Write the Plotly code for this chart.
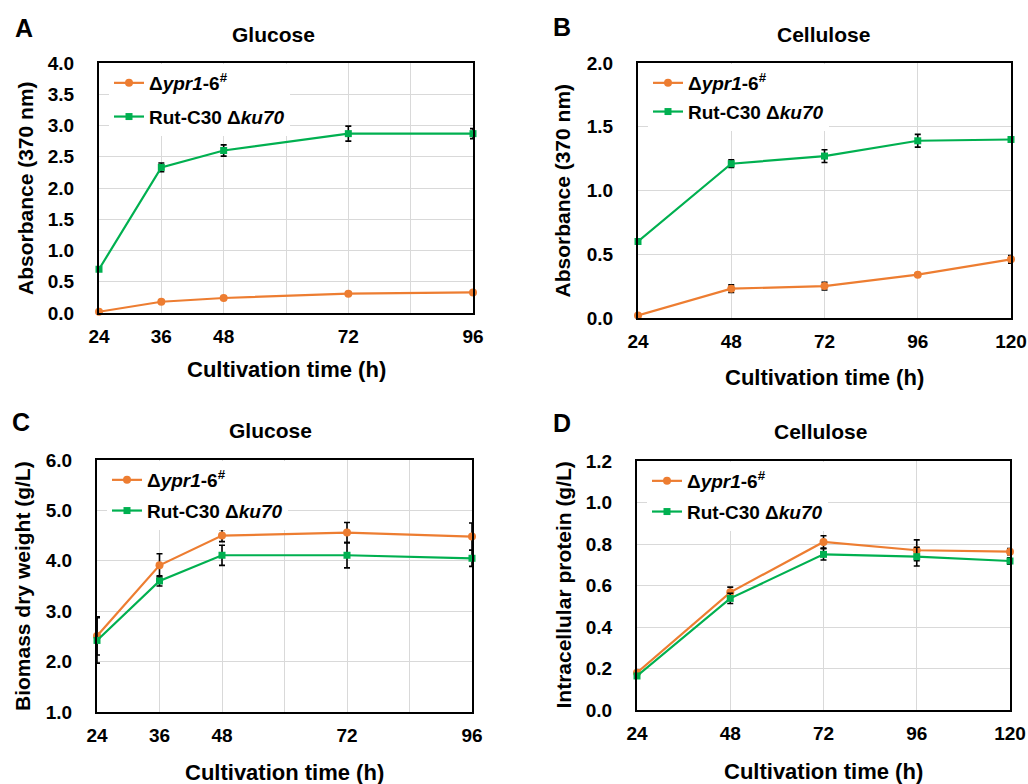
import plotly.graph_objects as go

ORANGE = "#ED7D31"
GREEN = "#00B050"
FONT = "Arial, Liberation Sans, sans-serif"

name_ypr = "Δ<i>ypr1</i>-6<sup>#</sup>"
name_ku = "Rut-C30 Δ<i>ku70</i>"

# Panel A: Glucose, absorbance
a_time = [24, 36, 48, 72, 96]
a_ypr = [0.02, 0.18, 0.24, 0.31, 0.33]
a_ypr_err = [0.01, 0.02, 0.02, 0.02, 0.02]
a_ku = [0.70, 2.33, 2.60, 2.87, 2.87]
a_ku_err = [0.03, 0.07, 0.09, 0.12, 0.08]

# Panel B: Cellulose, absorbance
b_time = [24, 48, 72, 96, 120]
b_ypr = [0.02, 0.23, 0.25, 0.34, 0.46]
b_ypr_err = [0.01, 0.03, 0.03, 0.01, 0.03]
b_ku = [0.60, 1.21, 1.27, 1.39, 1.40]
b_ku_err = [0.01, 0.03, 0.05, 0.05, 0.02]

# Panel C: Glucose, biomass
c_time = [24, 36, 48, 72, 96]
c_ypr = [2.51, 3.91, 4.50, 4.56, 4.48]
c_ypr_err = [0.38, 0.23, 0.12, 0.20, 0.27]
c_ku = [2.42, 3.60, 4.11, 4.11, 4.05]
c_ku_err = [0.45, 0.10, 0.20, 0.25, 0.16]

# Panel D: Cellulose, intracellular protein
d_time = [24, 48, 72, 96, 120]
d_ypr = [0.18, 0.567, 0.81, 0.77, 0.763]
d_ypr_err = [0.01, 0.025, 0.03, 0.05, 0.015]
d_ku = [0.164, 0.538, 0.75, 0.739, 0.718]
d_ku_err = [0.01, 0.025, 0.027, 0.045, 0.015]

glc_tickvals = [24, 36, 48, 72, 96]
cel_tickvals = [24, 48, 72, 96, 120]

W, H = 1028, 784

panels = [
    dict(t=a_time, y1=a_ypr, e1=a_ypr_err, y2=a_ku, e2=a_ku_err, box=(99, 473, 63, 313),
         yr=[0, 4], dt=0.5, ytitle="Absorbance (370 nm)", title="Glucose", letter="A",
         tv=glc_tickvals, xr=[24, 96], gdt=12, gap=6,
         letter_xy=(24, 28), title_xy=(273, 34), xt_y=370, yt_x=25),
    dict(t=b_time, y1=b_ypr, e1=b_ypr_err, y2=b_ku, e2=b_ku_err, box=(638, 1011, 63, 318),
         yr=[0, 2], dt=0.5, ytitle="Absorbance (370 nm)", title="Cellulose", letter="B",
         tv=cel_tickvals, xr=[24, 120], gdt=24, gap=1,
         letter_xy=(562, 27), title_xy=(823, 35), xt_y=377, yt_x=562),
    dict(t=c_time, y1=c_ypr, e1=c_ypr_err, y2=c_ku, e2=c_ku_err, box=(97, 472, 460, 712),
         yr=[1, 6], dt=1.0, ytitle="Biomass dry weight (g/L)", title="Glucose", letter="C",
         tv=glc_tickvals, xr=[24, 96], gdt=12, gap=3,
         letter_xy=(21, 422), title_xy=(270, 430), xt_y=772, yt_x=22),
    dict(t=d_time, y1=d_ypr, e1=d_ypr_err, y2=d_ku, e2=d_ku_err, box=(637, 1010, 461, 710),
         yr=[0, 1.2], dt=0.2, ytitle="Intracellular protein (g/L)", title="Cellulose", letter="D",
         tv=cel_tickvals, xr=[24, 120], gdt=24, gap=3,
         letter_xy=(562, 423), title_xy=(820, 432), xt_y=771, yt_x=563),
]

fig = go.Figure()
annotations = []
layout = {}

for i, p in enumerate(panels):
    n = "" if i == 0 else str(i + 1)
    xa, ya = "x" + n, "y" + n
    leg = "legend" + n
    x0, x1, y0, y1 = p["box"]
    xdom = [x0 / W, x1 / W]
    ydom = [1 - y1 / H, 1 - y0 / H]

    fig.add_trace(go.Scatter(
        x=p["t"], y=p["y1"], name=name_ypr, mode="lines+markers",
        line=dict(color=ORANGE, width=2.2), marker=dict(symbol="circle", size=8, color=ORANGE),
        error_y=dict(type="data", array=p["e1"], color="black", thickness=1.6, width=3),
        xaxis=xa, yaxis=ya, legend=leg, legendgroup="g1" + n, cliponaxis=False))
    fig.add_trace(go.Scatter(
        x=p["t"], y=p["y2"], name=name_ku, mode="lines+markers",
        line=dict(color=GREEN, width=2.2), marker=dict(symbol="square", size=7, color=GREEN),
        error_y=dict(type="data", array=p["e2"], color="black", thickness=1.6, width=3),
        xaxis=xa, yaxis=ya, legend=leg, legendgroup="g2" + n, cliponaxis=False))

    layout["xaxis" + n] = dict(
        domain=xdom, anchor=ya, range=p["xr"], tickmode="array", tickvals=p["tv"],
        showgrid=True, gridcolor="#d9d9d9", gridwidth=1, zeroline=False, automargin=False,
        minor=dict(tick0=24, dtick=p["gdt"], showgrid=True, gridcolor="#d9d9d9", gridwidth=1, ticks=""),
        showline=True, mirror=True, linecolor="black", linewidth=2,
        ticks="outside", ticklen=5, tickcolor="rgba(0,0,0,0)",
        tickfont=dict(family=FONT, size=19, color="black", weight="bold"))
    layout["yaxis" + n] = dict(
        domain=ydom, anchor=xa, range=p["yr"], dtick=p["dt"], tick0=p["yr"][0], tickformat=".1f",
        showgrid=True, gridcolor="#d9d9d9", gridwidth=1, zeroline=False, automargin=False,
        showline=True, mirror=True, linecolor="black", linewidth=2,
        ticks="outside", ticklen=19, tickcolor="rgba(0,0,0,0)",
        tickfont=dict(family=FONT, size=19, color="black", weight="bold"))
    layout[leg] = dict(
        x=(x0 + 10) / W, y=1 - (y0 + 1) / H, xanchor="left", yanchor="top",
        bgcolor="white", borderwidth=0, traceorder="grouped", tracegroupgap=p["gap"],
        font=dict(family=FONT, size=19, color="black", weight="bold"),
        itemwidth=30)

    annotations.append(dict(text=p["letter"], x=p["letter_xy"][0] / W, y=1 - p["letter_xy"][1] / H,
                            xref="paper", yref="paper", showarrow=False, xanchor="center", yanchor="middle",
                            font=dict(family=FONT, size=25, color="black", weight="bold")))
    annotations.append(dict(text=p["title"], x=p["title_xy"][0] / W, y=1 - p["title_xy"][1] / H,
                            xref="paper", yref="paper", showarrow=False, xanchor="center", yanchor="middle",
                            font=dict(family=FONT, size=21, color="black", weight="bold")))
    annotations.append(dict(text="Cultivation time (h)", x=(x0 + x1) / 2 / W, y=1 - p["xt_y"] / H,
                            xref="paper", yref="paper", showarrow=False, xanchor="center", yanchor="middle",
                            font=dict(family=FONT, size=22, color="black", weight="bold")))
    annotations.append(dict(text=p["ytitle"], x=p["yt_x"] / W, y=1 - (y0 + y1) / 2 / H,
                            xref="paper", yref="paper", showarrow=False, xanchor="center", yanchor="middle",
                            textangle=-90,
                            font=dict(family=FONT, size=21, color="black", weight="bold")))

fig.update_layout(
    width=W, height=H, margin=dict(l=0, r=0, t=0, b=0),
    plot_bgcolor="white", paper_bgcolor="white",
    font=dict(family=FONT, size=19, color="black", weight="bold"),
    annotations=annotations, **layout)

fig.write_html("out.html", config={"displayModeBar": False},
               post_script="document.body.style.margin='0';document.body.style.overflow='hidden';")
